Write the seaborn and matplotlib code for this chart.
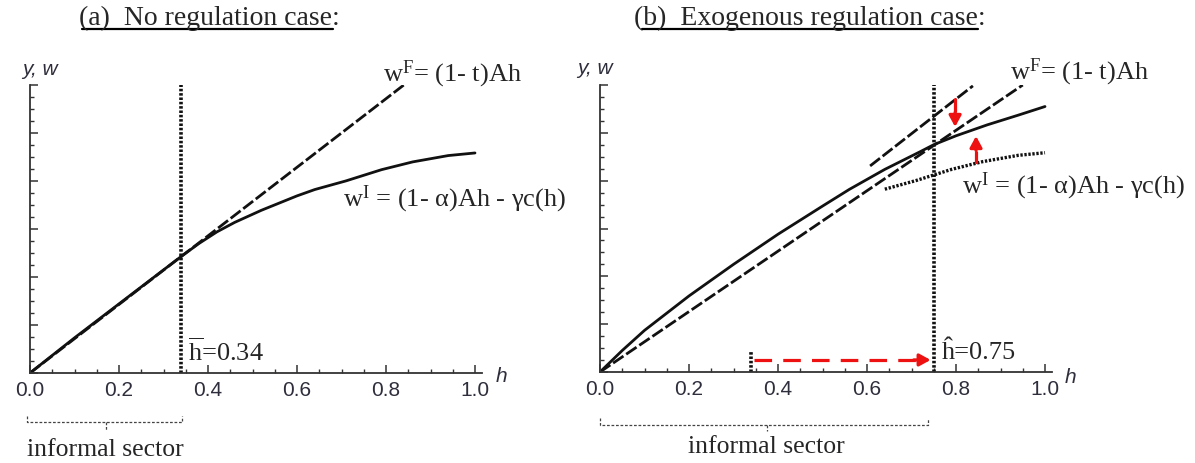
import numpy as np
import pandas as pd
import seaborn as sns
import matplotlib.pyplot as plt
from matplotlib.ticker import MultipleLocator

# --- values (h on x, y/w on y, y axis top = 1.0) ---
h_bar = 0.34
h_hat = 0.75

# panel (a)
wF_h = [0.0, 0.84]
wF_y = [0.0, 1.0]
wI_h = [0.0, 0.10, 0.20, 0.34, 0.38, 0.42, 0.46, 0.52, 0.60, 0.64, 0.71, 0.79, 0.86, 0.94, 1.0]
wI_y = [0.0, 0.122, 0.240, 0.405, 0.450, 0.490, 0.523, 0.565, 0.615, 0.637, 0.667, 0.706, 0.733, 0.755, 0.764]

# panel (b)
y_h = [0.0, 0.05, 0.10, 0.20, 0.30, 0.40, 0.50, 0.56, 0.64, 0.72, 0.75, 0.80, 0.87, 0.94, 1.0]
y_y = [0.0, 0.075, 0.145, 0.265, 0.375, 0.480, 0.578, 0.636, 0.706, 0.768, 0.792, 0.823, 0.861, 0.895, 0.925]
wFreg_h = [0.0, 0.95]
wFreg_y = [0.0, 1.0]
wFold_h = [0.607, 0.838]
wFold_y = [0.718, 0.997]
wIold_h = [0.64, 0.71, 0.79, 0.86, 0.94, 1.0]
wIold_y = [0.637, 0.667, 0.706, 0.733, 0.755, 0.764]

xticks = [0.0, 0.2, 0.4, 0.6, 0.8, 1.0]
xtick_labels = ['0.0', '0.2', '0.4', '0.6', '0.8', '1.0']

sns.set_theme(style="white")
plt.rcParams['font.family'] = ['Liberation Serif', 'DejaVu Serif']
plt.rcParams['mathtext.fontset'] = 'custom'
plt.rcParams['mathtext.rm'] = 'Liberation Serif'
plt.rcParams['mathtext.it'] = 'Liberation Serif:italic'

W, H = 1195, 464
fig = plt.figure(figsize=(W / 100, H / 100), dpi=100)
axL = fig.add_axes([30 / W, 90 / H, 452 / W, 288 / H])
axR = fig.add_axes([600 / W, 91 / H, 452 / W, 287 / H])

ink = '#111111'
tickcol = '#2e2e3c'
dash = (0, (4.5, 1.2))
dots = (0, (0.7, 0.5))

for ax in (axL, axR):
    ax.set_xlim(0, 452 / 445)
    ax.set_ylim(0, 1.0)
    ax.set_facecolor('white')
    for s in ('top', 'right'):
        ax.spines[s].set_visible(False)
    for s in ('left', 'bottom'):
        ax.spines[s].set_color('#333333')
        ax.spines[s].set_linewidth(1.3)
    ax.xaxis.set_major_locator(MultipleLocator(0.2))
    ax.xaxis.set_minor_locator(MultipleLocator(0.05))
    ax.yaxis.set_major_locator(MultipleLocator(1 / 6))
    ax.yaxis.set_minor_locator(MultipleLocator(1 / 24))
    ax.set_xticks(xticks)
    ax.set_xticklabels(xtick_labels, fontfamily='Liberation Sans', fontsize=15, color=tickcol)
    ax.set_yticklabels([])
    ax.tick_params(which='major', direction='in', length=5.5, width=1.1, color='#333333', pad=5,
                   bottom=True, left=True)
    ax.tick_params(which='minor', direction='in', length=3, width=1.0, color='#333333',
                   bottom=True, left=True)
    ax.set_xlabel('')
    ax.set_ylabel('')

# ---------------- panel (a) ----------------
sns.lineplot(x=wI_h, y=wI_y, ax=axL, color=ink, lw=2.0)
sns.lineplot(x=wF_h, y=wF_y, ax=axL, color=ink, lw=2.0, linestyle=dash)
axL.plot([h_bar, h_bar], [0, 1.0], color=ink, lw=2.6, linestyle=dots, clip_on=False)

axL.text(0.793, 1.014, r'w$^{\mathrm{F}}$= (1- t)Ah', fontsize=19, ha='left', va='baseline')
axL.text(0.703, 0.580, r'w$^{\mathrm{I}}$ = (1- α)Ah - γc(h)', fontsize=19, ha='left', va='baseline')
axL.text(0.355, 0.045, r'$\overline{\mathrm{h}}$=0.34', fontsize=19, ha='left', va='baseline')
axL.text(-0.018, 1.038, 'y, w', fontfamily='Liberation Sans', style='italic', fontsize=15,
         color=tickcol, ha='left', va='baseline')
axL.text(1.047, -0.028, 'h', fontfamily='Liberation Sans', style='italic', fontsize=15,
         color=tickcol, ha='left', va='baseline')

# informal sector bracket (a)
br = dict(color='#444444', lw=0.9, linestyle=(0, (2.2, 1.4)), clip_on=False)
axL.plot([-0.007, -0.007, 0.342, 0.342], [-0.149, -0.170, -0.170, -0.149], **br)
axL.plot([0.171, 0.171], [-0.170, -0.201], **br)
axL.text(0.169, -0.285, 'informal sector', fontsize=18.5, ha='center', va='baseline')

# ---------------- panel (b) ----------------
sns.lineplot(x=y_h, y=y_y, ax=axR, color=ink, lw=2.0)
sns.lineplot(x=wFreg_h, y=wFreg_y, ax=axR, color=ink, lw=2.0, linestyle=dash)
sns.lineplot(x=wFold_h, y=wFold_y, ax=axR, color=ink, lw=2.0, linestyle=dash)
sns.lineplot(x=wIold_h, y=wIold_y, ax=axR, color=ink, lw=2.4, linestyle=dots)
axR.plot([h_hat, h_hat], [0, 1.0], color=ink, lw=2.6, linestyle=dots, clip_on=False)
axR.plot([h_bar, h_bar], [0, 0.073], color=ink, lw=2.6, linestyle=dots, clip_on=False)

red = '#ee1111'
# horizontal shift arrow from h_bar to h_hat
axR.plot([h_bar + 0.005, 0.712], [0.042, 0.042], color=red, lw=2.3, linestyle=(0, (5.5, 3.5)))
axR.annotate('', xy=(0.743, 0.042), xytext=(0.705, 0.042),
             arrowprops=dict(arrowstyle='-|>,head_width=0.3,head_length=0.55', color=red, lw=2.3,
                             shrinkA=0, shrinkB=0))
# vertical arrows
axR.plot([0.798, 0.798], [0.951, 0.910], color=red, lw=2.3)
axR.annotate('', xy=(0.798, 0.854), xytext=(0.798, 0.905),
             arrowprops=dict(arrowstyle='-|>,head_width=0.3,head_length=0.55', color=red, lw=2.3,
                             shrinkA=0, shrinkB=0))
axR.plot([0.845, 0.845], [0.732, 0.767], color=red, lw=2.3)
axR.annotate('', xy=(0.845, 0.822), xytext=(0.845, 0.772),
             arrowprops=dict(arrowstyle='-|>,head_width=0.3,head_length=0.55', color=red, lw=2.3,
                             shrinkA=0, shrinkB=0))

axR.text(0.921, 1.021, r'w$^{\mathrm{F}}$= (1- t)Ah', fontsize=19, ha='left', va='baseline')
axR.text(0.813, 0.624, r'w$^{\mathrm{I}}$ = (1- α)Ah - γc(h)', fontsize=19, ha='left', va='baseline')
axR.text(0.769, 0.049, '\u0125=0.75', fontsize=19, ha='left', va='baseline')
axR.text(-0.052, 1.042, 'y, w', fontfamily='Liberation Sans', style='italic', fontsize=15,
         color=tickcol, ha='left', va='baseline')
axR.text(1.045, -0.035, 'h', fontfamily='Liberation Sans', style='italic', fontsize=15,
         color=tickcol, ha='left', va='baseline')

axR.plot([0.0, 0.0, 0.737, 0.737], [-0.160, -0.185, -0.185, -0.160], **br)
axR.plot([0.375, 0.375], [-0.185, -0.206], **br)
axR.text(0.375, -0.279, 'informal sector', fontsize=18.5, ha='center', va='baseline')

# titles with underline
fig.text(209 / W, 1 - 25 / H, '(a)  No regulation case:', fontsize=20, ha='center', va='baseline')
fig.text(810 / W, 1 - 25 / H, '(b)  Exogenous regulation case:', fontsize=20, ha='center', va='baseline')
fig.add_artist(plt.Line2D([82 / W, 333 / W], [1 - 29.5 / H, 1 - 29.5 / H], color='black', lw=1.6))
fig.add_artist(plt.Line2D([642 / W, 978 / W], [1 - 29.5 / H, 1 - 29.5 / H], color='black', lw=1.6))

fig.savefig('out.png', dpi=100, facecolor='white')
